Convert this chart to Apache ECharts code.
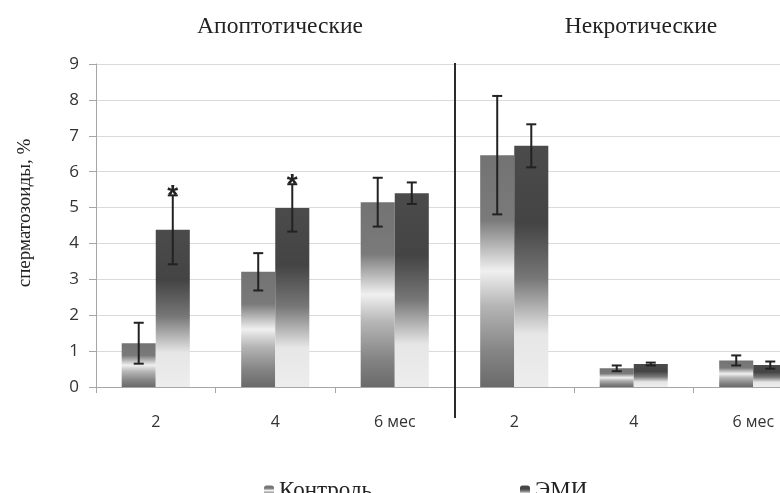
<!DOCTYPE html>
<html>
<head>
<meta charset="utf-8">
<script src="https://cdn.jsdelivr.net/npm/echarts@6/dist/echarts.min.js"></script>
<style>
  html, body { margin: 0; padding: 0; background: #fff; }
  #main { width: 780px; height: 493px; }
</style>
</head>
<body>
<div id="main"></div>
<script>
// категории: 3 срока для апоптотических и 3 для некротических
var categories = ['2', '4', '6 мес', '2', '4', '6 мес'];
var groupTitles = ['Апоптотические', 'Некротические'];
var yName = 'сперматозоиды, %';
var yTicks = [0, 9, 1]; // min, max, interval

var controlValues = [1.22, 3.21, 5.15, 6.46, 0.52, 0.74];
var controlErrors = [0.57, 0.52, 0.68, 1.65, 0.08, 0.14];
var emiValues = [4.38, 4.99, 5.40, 6.72, 0.64, 0.61];
var emiErrors = [0.96, 0.66, 0.30, 0.60, 0.04, 0.10];
var emiSignificant = [true, true, false, false, false, false];

var seriesNames = ['Контроль', 'ЭМИ'];

var serif = '"Liberation Serif", "DejaVu Serif", serif';
var sans = '"Open Sans", "Liberation Sans", sans-serif';

var myChart = echarts.init(document.getElementById('main'));

var controlColor = new echarts.graphic.LinearGradient(0, 0, 0, 1, [
	{ offset: 0, color: '#737373' },
	{ offset: 0.28, color: '#7a7a7a' },
	{ offset: 0.5, color: '#f0f0f0' },
	{ offset: 0.65, color: '#b5b5b5' },
	{ offset: 0.85, color: '#848484' },
	{ offset: 1, color: '#6a6a6a' }
]);
var emiColor = new echarts.graphic.LinearGradient(0, 0, 0, 1, [
	{ offset: 0, color: '#4b4b4b' },
	{ offset: 0.32, color: '#444444' },
	{ offset: 0.55, color: '#777777' },
	{ offset: 0.78, color: '#e6e6e6' },
	{ offset: 1, color: '#ededed' }
]);

var catGap = 0.43;

// данные для погрешностей: [индекс, низ, верх, значимость]
function errData(values, errors, sig) {
	return values.map(function (v, i) {
		return [i, v - errors[i], v + errors[i], sig && sig[i] ? 1 : 0];
	});
}

function errorBarSeries(name, values, errors, sig, side) {
	return {
		name: name,
		type: 'custom',
		z: 5,
		silent: true,
		encode: { x: 0, y: [1, 2] },
		data: errData(values, errors, sig),
		renderItem: function (params, api) {
			var idx = api.value(0);
			var lo = api.coord([idx, api.value(1)]);
			var hi = api.coord([idx, api.value(2)]);
			var catW = api.size([1, 0])[0];
			var barW = catW * (1 - catGap) / 2;
			var x = lo[0] + side * barW / 2;
			var cap = 5;
			var style = { stroke: '#222', lineWidth: 2 };
			var children = [
				{ type: 'line', shape: { x1: x, y1: lo[1], x2: x, y2: hi[1] }, style: style },
				{ type: 'line', shape: { x1: x - cap, y1: lo[1], x2: x + cap, y2: lo[1] }, style: style },
				{ type: 'line', shape: { x1: x - cap, y1: hi[1], x2: x + cap, y2: hi[1] }, style: style }
			];
			if (api.value(3)) {
				children.push({
					type: 'text',
					style: {
						x: x, y: hi[1] + 1, text: '*',
						textAlign: 'center', textVerticalAlign: 'middle',
						font: 'bold 28px "Liberation Sans", sans-serif', fill: '#222'
					}
				});
			}
			return { type: 'group', children: children };
		}
	};
}

var option = {
	animation: false,
	backgroundColor: '#fff',
	grid: { left: 96, top: 64, width: 717, height: 323, outerBoundsMode: 'none', containLabel: false },
	legend: {
		data: seriesNames,
		left: 259,
		top: 474,
		itemWidth: 10,
		itemHeight: 10,
		itemGap: 148,
		textStyle: { fontFamily: serif, fontSize: 23, color: '#222' }
	},
	xAxis: {
		type: 'category',
		data: categories,
		boundaryGap: true,
		axisLine: { lineStyle: { color: '#a6a6a6', width: 1 } },
		axisTick: { show: true, length: 6, lineStyle: { color: '#a6a6a6' } },
		axisLabel: { margin: 27, fontFamily: sans, fontSize: 16, color: '#333' }
	},
	yAxis: {
		type: 'value',
		min: yTicks[0],
		max: yTicks[1],
		interval: yTicks[2],
		axisLine: { show: true, lineStyle: { color: '#a6a6a6', width: 1 } },
		axisTick: { show: true, length: 7, lineStyle: { color: '#a6a6a6' } },
		axisLabel: { margin: 17, fontFamily: sans, fontSize: 17, color: '#333' },
		splitLine: { lineStyle: { color: '#dadada', width: 1 } }
	},
	series: [
		{
			name: seriesNames[0],
			type: 'bar',
			data: controlValues,
			barGap: '0%',
			barCategoryGap: (catGap * 100) + '%',
			itemStyle: { color: controlColor }
		},
		{
			name: seriesNames[1],
			type: 'bar',
			data: emiValues,
			barGap: '0%',
			barCategoryGap: (catGap * 100) + '%',
			itemStyle: { color: emiColor }
		},
		errorBarSeries(seriesNames[0], controlValues, controlErrors, null, -1),
		errorBarSeries(seriesNames[1], emiValues, emiErrors, emiSignificant, 1)
	]
};

myChart.setOption(option);

// разделитель между группами
var c2 = myChart.convertToPixel({ xAxisIndex: 0 }, 2);
var c3 = myChart.convertToPixel({ xAxisIndex: 0 }, 3);
var sepX = Math.round((c2 + c3) / 2);
var yTop = myChart.convertToPixel({ yAxisIndex: 0 }, yTicks[1]);

myChart.setOption({
	graphic: [
		{
			type: 'line',
			shape: { x1: sepX, y1: yTop - 1, x2: sepX, y2: yTop + 354 },
			style: { stroke: '#2b2b2b', lineWidth: 2 },
			z: 10
		},
		{
			type: 'text',
			x: 280,
			y: 27,
			style: { text: groupTitles[0], textAlign: 'center', textVerticalAlign: 'middle', font: '23.5px ' + serif, fill: '#222' }
		},
		{
			type: 'text',
			x: 641,
			y: 27,
			style: { text: groupTitles[1], textAlign: 'center', textVerticalAlign: 'middle', font: '23.5px ' + serif, fill: '#222' }
		},
		{
			type: 'text',
			x: 25,
			y: 213,
			rotation: Math.PI / 2,
			style: { text: yName, textAlign: 'center', textVerticalAlign: 'middle', font: '19px ' + serif, fill: '#222' }
		}
	]
});
</script>
</body>
</html>
